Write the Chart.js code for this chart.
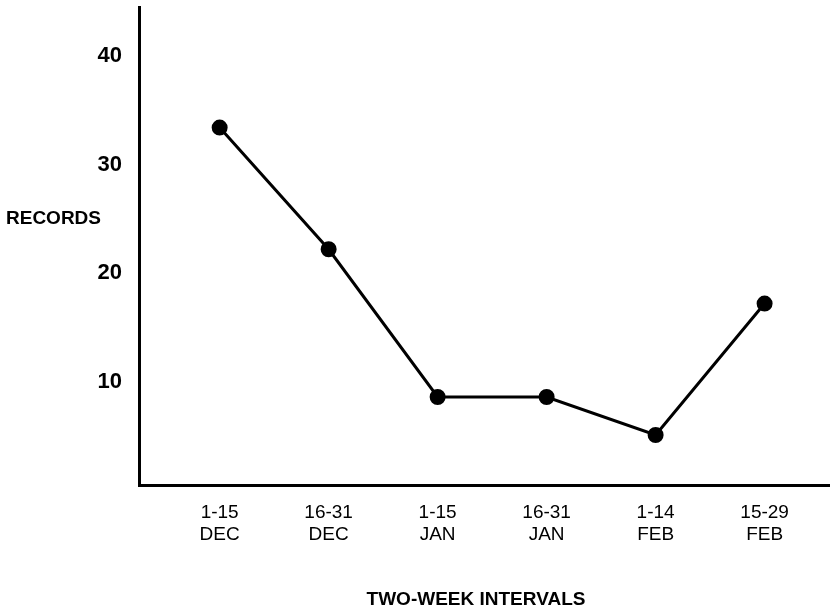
<!DOCTYPE html>
<html>
<head>
<meta charset="utf-8">
<script src="https://cdn.jsdelivr.net/npm/chart.js@4"></script>
<style>
  body { margin: 0; background: #fff; }
  canvas { display: block; }
</style>
</head>
<body>
<canvas id="records-chart" width="830" height="612"></canvas>
<script>
// two-week intervals, label lines (range, month)
const intervals = [['1-15', 'DEC'], ['16-31', 'DEC'], ['1-15', 'JAN'], ['16-31', 'JAN'], ['1-14', 'FEB'], ['15-29', 'FEB']];
// number of records per interval
const records = [33.4, 22.2, 8.6, 8.6, 5.1, 17.2];
const yTicks = [10, 20, 30, 40];
const yTitle = 'RECORDS';
const xTitle = 'TWO-WEEK INTERVALS';

const font = "'Liberation Sans', Arial, Helvetica, sans-serif";

// axis titles: horizontal "RECORDS" left of the axis, interval title below
const axisTitles = {
    id: 'axisTitles',
    afterDraw(chart) {
        const ctx = chart.ctx;
        ctx.save();
        ctx.font = 'bold 19px ' + font;
        ctx.fillStyle = '#000';
        ctx.textBaseline = 'middle';
        ctx.textAlign = 'left';
        ctx.fillText(yTitle, 6, 219);
        ctx.textAlign = 'center';
        ctx.fillText(xTitle, 476, 600);
        ctx.restore();
    }
};

new Chart(document.querySelector('#records-chart').getContext('2d'), {
    type: 'line',
    data: {
        datasets: [{
            data: records.map((v, i) => ({ x: i, y: v })),
            borderColor: '#000',
            backgroundColor: '#000',
            borderWidth: 3,
            pointRadius: 6.5,
            pointHoverRadius: 6.5,
            tension: 0
        }]
    },
    plugins: [axisTitles],
    options: {
        responsive: false,
        animation: false,
        layout: { autoPadding: false, padding: { top: 7, right: 0, left: 0, bottom: 0 } },
        plugins: { legend: { display: false }, tooltip: { enabled: false } },
        scales: {
            x: {
                type: 'linear',
                min: -0.74,
                max: 5.6,
                grid: { display: false, drawTicks: false },
                border: { display: true, color: '#000', width: 3 },
                afterBuildTicks: axis => { axis.ticks = intervals.map((c, i) => ({ value: i })); },
                afterFit: axis => { axis.height = 127; axis.paddingLeft = 0; axis.paddingRight = 0; },
                ticks: {
                    color: '#000',
                    padding: 17,
                    maxRotation: 0,
                    autoSkip: false,
                    font: { family: font, size: 19, lineHeight: 1.15 },
                    callback: (v) => intervals[v]
                }
            },
            y: {
                min: 0.5,
                max: 44.5,
                grid: { display: false, drawTicks: false },
                border: { display: true, color: '#000', width: 3 },
                afterBuildTicks: axis => { axis.ticks = yTicks.map(v => ({ value: v })); },
                afterFit: axis => { axis.width = 139; axis.paddingTop = 0; axis.paddingBottom = 0; },
                ticks: {
                    color: '#000',
                    padding: 17,
                    font: { family: font, size: 22, weight: 'bold' }
                }
            }
        }
    }
});
</script>
</body>
</html>
